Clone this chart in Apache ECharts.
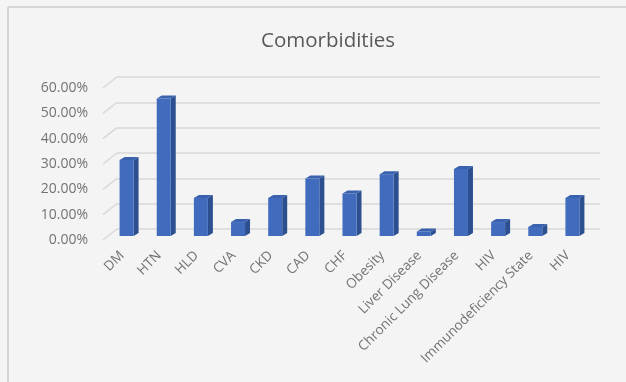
<!DOCTYPE html>
<html>
<head>
<meta charset="utf-8">
<script src="https://cdn.jsdelivr.net/npm/echarts@6/dist/echarts.min.js"></script>
<style>
  html, body { margin: 0; padding: 0; background: #f4f4f4; }
  #chart { width: 626px; height: 382px; }
</style>
</head>
<body>
<div id="chart"></div>
<script>
// chart data
var categories = ['DM', 'HTN', 'HLD', 'CVA', 'CKD', 'CAD', 'CHF', 'Obesity', 'Liver Disease',
  'Chronic Lung Disease', 'HIV', 'Immunodeficiency State', 'HIV'];
var values = [30, 54.3, 15, 5.5, 15, 22.7, 16.8, 24.4, 1.8, 26.4, 5.5, 3.6, 15];
var yTicks = [0, 10, 20, 30, 40, 50, 60];

// pseudo 3d look (excel style)
var FRONT_DX = -9, FRONT_DY = 7;
var BAR_W = 14, DEPTH_X = 5, DEPTH_Y = -3;
var WALL_DX = -14, WALL_DY = 11;

var mychart = echarts.init(document.getElementById('chart'));

function renderBar(params, api) {
  var base = api.coord([api.value(0), 0]);
  var top = api.coord([api.value(0), api.value(1)]);
  var x0 = base[0] + FRONT_DX - BAR_W / 2;
  var x1 = x0 + BAR_W;
  var yb = base[1] + FRONT_DY;
  var yt = top[1] + FRONT_DY;
  return {
    type: 'group',
    children: [
      {
        type: 'polygon',
        shape: { points: [[x1, yt], [x1 + DEPTH_X, yt + DEPTH_Y], [x1 + DEPTH_X, yb + DEPTH_Y], [x1, yb]] },
        style: { fill: '#2c4f8f' }
      },
      {
        type: 'polygon',
        shape: { points: [[x0, yt], [x0 + DEPTH_X, yt + DEPTH_Y], [x1 + DEPTH_X, yt + DEPTH_Y], [x1, yt]] },
        style: { fill: '#3a62ae' }
      },
      {
        type: 'rect',
        shape: { x: x0, y: yt, width: BAR_W, height: yb - yt },
        style: { fill: '#416bbd' }
      }
    ]
  };
}

function renderWall(params, api) {
  var p = api.coord([0, api.value(1)]);
  var x = params.coordSys.x;
  return {
    type: 'line',
    shape: { x1: x, y1: p[1], x2: x + WALL_DX, y2: p[1] + WALL_DY },
    style: { stroke: '#d9d9d9', lineWidth: 1.5 }
  };
}

var option = {
  backgroundColor: '#f4f4f4',
  title: {
    text: 'Comorbidities',
    left: 256,
    top: 26,
    textStyle: { fontFamily: 'Open Sans', fontSize: 20.5, fontWeight: 'normal', color: '#595959' }
  },
  graphic: [
    { type: 'line', shape: { x1: 8, y1: 7, x2: 626, y2: 7 }, style: { stroke: '#d6d6d6', lineWidth: 2 } },
    { type: 'line', shape: { x1: 8, y1: 7, x2: 8, y2: 382 }, style: { stroke: '#d6d6d6', lineWidth: 2 } }
  ],
  grid: { left: 117, right: 26, top: 77, bottom: 153 },
  xAxis: {
    type: 'category',
    data: categories,
    axisLine: { show: false },
    axisTick: { show: false },
    axisLabel: {
      interval: 0,
      rotate: 45,
      margin: 11,
      padding: [0, 19, 0, 0],
      fontFamily: 'Open Sans',
      fontSize: 13.5,
      color: '#737373'
    }
  },
  yAxis: {
    type: 'value',
    min: 0,
    max: 60,
    interval: 10,
    axisLine: { show: false },
    axisTick: { show: false },
    splitLine: { lineStyle: { color: '#d9d9d9', width: 1.5 } },
    axisLabel: {
      margin: 29,
      verticalAlign: 'top',
      lineHeight: 22,
      fontFamily: 'Open Sans',
      fontSize: 14,
      color: '#737373',
      formatter: function (v) { return v.toFixed(2) + '%'; }
    }
  },
  series: [
    {
      name: 'wall',
      type: 'custom',
      renderItem: renderWall,
      silent: true,
      data: yTicks.map(function (v) { return [0, v]; })
    },
    {
      name: 'Comorbidities',
      type: 'custom',
      renderItem: renderBar,
      data: values.map(function (v, i) { return [i, v]; })
    }
  ]
};

mychart.setOption(option);
</script>
</body>
</html>
